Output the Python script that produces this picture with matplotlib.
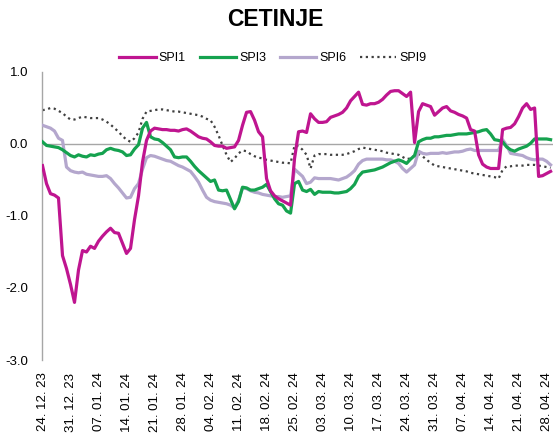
import numpy as np
import pandas as pd
import matplotlib
matplotlib.use("Agg")
import matplotlib.pyplot as plt
import matplotlib.dates as mdates

start_date = "2023-12-24"

spi1 = [-0.30, -0.55, -0.69, -0.71, -0.75, -1.55, -1.73, -1.95, -2.20, -1.75,
        -1.48, -1.50, -1.42, -1.45, -1.35, -1.28, -1.22, -1.17, -1.23, -1.24,
        -1.38, -1.52, -1.45, -1.05, -0.72, -0.25, 0.05, 0.18, 0.22, 0.21,
        0.20, 0.20, 0.19, 0.19, 0.18, 0.20, 0.21, 0.18, 0.14, 0.10,
        0.08, 0.07, 0.03, -0.02, -0.03, -0.03, -0.06, -0.05, -0.04, 0.05,
        0.26, 0.44, 0.45, 0.33, 0.17, 0.10, -0.48, -0.65, -0.72, -0.76,
        -0.79, -0.82, -0.85, -0.20, 0.17, 0.18, 0.16, 0.42, 0.35, 0.30,
        0.30, 0.31, 0.37, 0.39, 0.41, 0.44, 0.50, 0.60, 0.66, 0.72,
        0.55, 0.54, 0.56, 0.56, 0.58, 0.62, 0.68, 0.73, 0.74, 0.74,
        0.70, 0.66, 0.72, 0.02, 0.45, 0.56, 0.54, 0.52, 0.40, 0.45,
        0.50, 0.52, 0.46, 0.44, 0.41, 0.39, 0.36, 0.20, 0.18, -0.15,
        -0.28, -0.32, -0.34, -0.34, -0.34, 0.20, 0.22, 0.23, 0.28, 0.38,
        0.50, 0.56, 0.48, 0.50, -0.45, -0.44, -0.41, -0.38]

spi3 = [0.03, -0.02, -0.03, -0.04, -0.05, -0.08, -0.12, -0.16, -0.18, -0.15,
        -0.17, -0.18, -0.15, -0.16, -0.14, -0.13, -0.08, -0.06, -0.08, -0.09,
        -0.11, -0.16, -0.15, -0.07, -0.01, 0.22, 0.30, 0.10, 0.07, 0.06,
        0.02, -0.03, -0.08, -0.18, -0.19, -0.18, -0.18, -0.24, -0.31, -0.37,
        -0.42, -0.47, -0.52, -0.50, -0.64, -0.65, -0.64, -0.77, -0.90, -0.80,
        -0.60, -0.61, -0.64, -0.64, -0.62, -0.60, -0.56, -0.66, -0.76, -0.83,
        -0.85, -0.93, -0.96, -0.55, -0.52, -0.64, -0.66, -0.63, -0.70, -0.66,
        -0.67, -0.67, -0.67, -0.68, -0.68, -0.67, -0.66, -0.62, -0.56, -0.45,
        -0.39, -0.38, -0.37, -0.36, -0.34, -0.32, -0.29, -0.26, -0.24, -0.22,
        -0.24, -0.27, -0.21, -0.16, 0.03, 0.06, 0.08, 0.08, 0.10, 0.10,
        0.11, 0.12, 0.12, 0.13, 0.14, 0.14, 0.14, 0.15, 0.16, 0.17,
        0.19, 0.20, 0.14, 0.06, 0.05, 0.03, -0.04, -0.08, -0.10, -0.07,
        -0.05, -0.03, 0.01, 0.07, 0.07, 0.07, 0.07, 0.06]

spi6 = [0.26, 0.24, 0.22, 0.18, 0.08, 0.05, -0.32, -0.37, -0.39, -0.40,
        -0.39, -0.42, -0.43, -0.44, -0.45, -0.45, -0.44, -0.48, -0.55, -0.61,
        -0.68, -0.75, -0.74, -0.62, -0.55, -0.35, -0.19, -0.16, -0.17, -0.19,
        -0.21, -0.23, -0.24, -0.27, -0.30, -0.32, -0.35, -0.38, -0.45, -0.53,
        -0.64, -0.74, -0.78, -0.80, -0.81, -0.82, -0.83, -0.85, -0.89, -0.78,
        -0.61, -0.62, -0.65, -0.67, -0.68, -0.70, -0.71, -0.72, -0.73, -0.73,
        -0.74, -0.73, -0.72, -0.35, -0.40, -0.45, -0.55, -0.53, -0.47, -0.48,
        -0.48, -0.48, -0.48, -0.49, -0.50, -0.48, -0.46, -0.42, -0.37, -0.28,
        -0.23, -0.21, -0.21, -0.21, -0.21, -0.21, -0.22, -0.22, -0.24, -0.27,
        -0.34, -0.39, -0.34, -0.29, -0.10, -0.13, -0.14, -0.13, -0.13, -0.13,
        -0.12, -0.13, -0.12, -0.11, -0.11, -0.10, -0.08, -0.07, -0.09, -0.09,
        -0.09, -0.09, -0.09, -0.09, -0.09, 0.06, -0.02, -0.13, -0.14, -0.15,
        -0.16, -0.19, -0.21, -0.22, -0.21, -0.21, -0.24, -0.29]

spi9 = [0.47, 0.48, 0.50, 0.49, 0.46, 0.43, 0.38, 0.34, 0.34, 0.36,
        0.38, 0.37, 0.36, 0.36, 0.36, 0.34, 0.31, 0.27, 0.22, 0.17,
        0.11, 0.06, 0.03, 0.08, 0.16, 0.35, 0.45, 0.46, 0.47, 0.48,
        0.48, 0.47, 0.46, 0.45, 0.45, 0.44, 0.43, 0.42, 0.41, 0.40,
        0.38, 0.35, 0.33, 0.24, 0.12, -0.02, -0.15, -0.25, -0.20, -0.13,
        -0.09, -0.10, -0.14, -0.17, -0.19, -0.20, -0.22, -0.23, -0.24, -0.25,
        -0.26, -0.26, -0.27, -0.02, -0.03, -0.08, -0.15, -0.34, -0.16, -0.14,
        -0.14, -0.14, -0.15, -0.15, -0.15, -0.15, -0.14, -0.12, -0.10, -0.07,
        -0.05, -0.06, -0.07, -0.08, -0.09, -0.10, -0.12, -0.13, -0.14, -0.15,
        -0.18, -0.21, -0.20, -0.16, -0.14, -0.17, -0.22, -0.26, -0.30, -0.31,
        -0.32, -0.33, -0.34, -0.35, -0.36, -0.37, -0.38, -0.40, -0.41, -0.42,
        -0.43, -0.44, -0.45, -0.46, -0.48, -0.36, -0.31, -0.31, -0.30, -0.30,
        -0.30, -0.29, -0.29, -0.29, -0.30, -0.31, -0.32, -0.33]

series_names = ["SPI1", "SPI3", "SPI6", "SPI9"]
y_ticks = [1.0, 0.0, -1.0, -2.0, -3.0]

dates = pd.date_range(start_date, periods=len(spi1), freq="D")

plt.rcParams["font.family"] = ["Liberation Sans", "DejaVu Sans"]

W, H = 553, 440
fig = plt.figure(figsize=(W / 100, H / 100), dpi=100)
ax = fig.add_axes([42 / W, 80 / H, (W - 42) / W, 288 / H])

ax.axhline(0, color="#a6a6a6", lw=1.0, zorder=1)

styles = [
    dict(color="#bf1590", lw=2.3, ls="-", zorder=5),
    dict(color="#15a24f", lw=2.3, ls="-", zorder=4),
    dict(color="#b4a7cd", lw=2.3, ls="-", zorder=3),
    dict(color="#404040", lw=1.6, ls=(0, (1.0, 1.6)), dash_capstyle="butt", zorder=2),
]
data = [spi1, spi3, spi6, spi9]
lines = []
for i in range(4):
    ln, = ax.plot(dates, data[i], label=series_names[i], **styles[i])
    lines.append(ln)

ax.set_ylim(-3.0, 1.0)
ax.set_yticks(y_ticks)
ax.set_yticklabels([f"{v:.1f}" for v in y_ticks])
ax.set_xlim(dates[0] - pd.Timedelta(hours=3), dates[0] + pd.Timedelta(days=127.6))
ax.set_xticks(pd.date_range(start_date, periods=19, freq="7D"))
ax.xaxis.set_major_formatter(mdates.DateFormatter("%d. %m. %y"))

for s in ["top", "right", "bottom"]:
    ax.spines[s].set_visible(False)
ax.spines["left"].set_color("#a6a6a6")
ax.spines["left"].set_linewidth(1.0)

ax.tick_params(axis="y", length=0, pad=10, labelsize=9.5, labelcolor="#000000")
ax.tick_params(axis="x", length=0, pad=9, labelsize=9.5, rotation=90)

fig.text(275 / W, 1 - 19 / H, "CETINJE", ha="center", va="center",
         fontsize=16.5, fontweight="bold",
         family=["Liberation Sans Narrow", "Liberation Sans", "DejaVu Sans"])

fig.legend(lines, series_names, loc="center", ncol=4,
           bbox_to_anchor=(273 / W, 1 - 58 / H), frameon=False,
           fontsize=9, handlelength=2.9, handletextpad=0.25, columnspacing=1.1)

fig.savefig("out.png", dpi=100)
